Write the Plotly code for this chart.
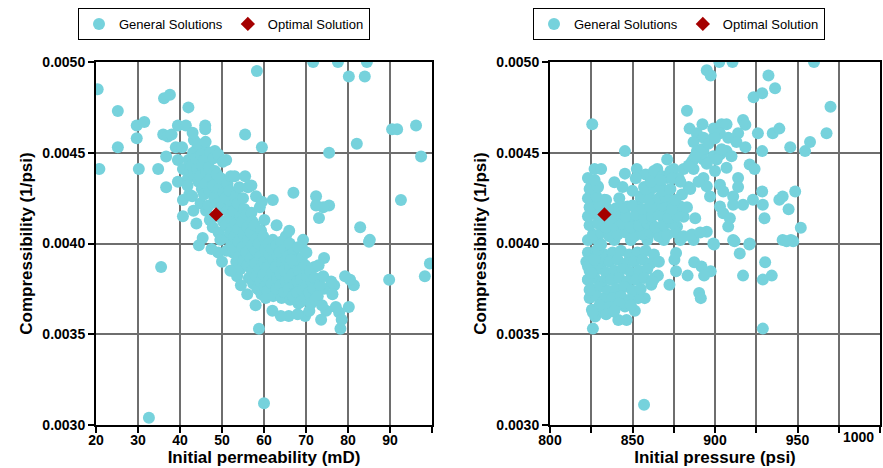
import plotly.graph_objects as go

# ---------------- Left panel: Initial permeability (mD) vs compressibility ----------------
perm_outer = [
    20.4, 25.2, 25.2, 20.8, 29.7, 31.5, 29.7, 30.2, 36.2, 37.6,
    42.0, 34.8, 36.7, 36.0, 37.1, 38.0, 39.5, 41.4, 46.0, 46.0,
    55.5, 58.3, 59.5, 36.7, 39.0, 43.3, 43.0, 40.5, 44.0, 45.7,
    48.3, 39.5, 39.5, 40.7, 40.7, 40.7, 41.9, 35.5, 32.6, 60.0,
    58.8, 71.7, 77.6, 84.5, 80.2, 84.0, 90.5, 91.7, 96.2, 82.1,
    75.5, 97.4, 67.0, 72.4, 72.4, 75.5, 74.1, 73.1, 92.6, 62.1,
    82.9, 85.2, 69.3, 65.2, 85.0, 74.3, 79.3, 81.4, 80.5, 89.8,
    98.3, 99.5, 76.7, 74.3, 80.2, 77.9, 74.8, 73.6, 78.2, 78.5,
    69.8, 70.8, 65.9, 53.6, 49.1, 52.6, 69.0, 72.0,
]
comp_outer_left = [
    0.00485, 0.00473, 0.00453, 0.00441, 0.00465, 0.00467, 0.00458, 0.00441, 0.00480, 0.00482,
    0.00475, 0.00441, 0.00431, 0.00460, 0.00459, 0.00460, 0.00465, 0.00465, 0.00465, 0.00463,
    0.00460, 0.00495, 0.00453, 0.00448, 0.00453, 0.00457, 0.00461, 0.00453, 0.00452, 0.00453,
    0.00451, 0.00446, 0.00434, 0.00441, 0.00424, 0.00415, 0.00436, 0.00387, 0.00304, 0.00312,
    0.00353, 0.00500, 0.00500, 0.00500, 0.00492, 0.00492, 0.00463, 0.00463, 0.00465, 0.00455,
    0.00450, 0.00448, 0.00428, 0.00426, 0.00421, 0.00421, 0.00420, 0.00414, 0.00424, 0.00424,
    0.00409, 0.00402, 0.00402, 0.00404, 0.00401, 0.00392, 0.00382, 0.00377, 0.00380, 0.00380,
    0.00382, 0.00389, 0.00377, 0.00375, 0.00365, 0.00362, 0.00363, 0.00358, 0.00353, 0.00358,
    0.00360, 0.00363, 0.00360, 0.00382, 0.00395, 0.00395, 0.00398, 0.00387,
]

perm_band = [
    42.0, 42.4, 41.8, 42.2,
    43.1, 42.8, 43.3, 42.9, 43.2,
    44.2, 43.8, 44.1, 44.4, 43.9,
    45.0, 45.3, 44.8, 45.2, 44.9, 45.4,
    46.1, 45.8, 46.3, 46.0, 45.7, 46.2,
    47.2, 46.9, 47.3, 47.0, 46.8, 47.1,
    48.0, 48.3, 47.9, 48.2, 47.8,
    49.1, 48.8, 49.3, 49.0, 48.9, 49.2,
    50.2, 49.7, 50.4, 49.9, 50.3, 49.6,
    51.0, 51.3, 50.8, 51.2, 50.9, 51.4, 51.1,
    52.1, 51.8, 52.3, 52.0, 51.9, 52.2,
    53.0, 53.3, 52.8, 53.2, 52.9, 53.1, 53.4,
    54.1, 53.8, 54.3, 54.0, 53.9, 54.2, 54.4,
    55.0, 55.3, 54.8, 55.2, 54.9, 55.1,
    56.2, 55.9, 56.1, 56.3, 55.8, 56.0, 56.4,
    57.0, 57.3, 56.9, 57.2, 56.8, 57.1, 57.4,
    58.1, 57.8, 58.3, 58.0, 57.9, 58.2, 58.4,
    59.0, 59.3, 58.8, 59.2, 58.9, 59.1, 59.4,
    60.1, 59.8, 60.3, 60.0, 59.9, 60.2, 60.4,
    61.0, 61.3, 60.8, 61.2, 60.9,
    62.1, 61.8, 62.3, 62.0, 61.9, 62.2,
    63.0, 63.3, 62.8, 63.2, 62.9,
    64.1, 63.8, 64.3, 64.0, 63.9, 64.2,
    65.0, 65.3, 64.8, 65.2, 64.9,
    66.1, 65.8, 66.3, 66.0, 65.9, 66.2,
    67.0, 67.3, 66.8, 67.2, 66.9,
    68.1, 67.8, 68.3, 68.0, 67.9, 68.2,
    69.0, 69.3, 68.8, 69.2, 68.9,
    70.1, 69.8, 70.3, 70.0, 69.9,
    71.0, 71.3, 70.8, 71.2,
    72.1, 71.8, 72.3,
    73.0, 73.3, 72.8,
    74.1, 73.8,
    76.0, 76.3,
    77.1,
    55.5, 57.0, 59.5, 63.0, 66.0, 47.5, 50.0, 56.0,
    58.0, 62.0, 64.0, 68.0, 44.5, 52.0, 54.5, 66.5,
]
comp_band_left = [
    0.00446, 0.00440, 0.00432, 0.00427,
    0.00450, 0.00443, 0.00438, 0.00426, 0.00418,
    0.00455, 0.00447, 0.00441, 0.00434, 0.00411,
    0.00449, 0.00443, 0.00437, 0.00430, 0.00422, 0.00403,
    0.00456, 0.00446, 0.00440, 0.00433, 0.00427, 0.00418,
    0.00450, 0.00442, 0.00436, 0.00429, 0.00421, 0.00413,
    0.00447, 0.00440, 0.00432, 0.00425, 0.00409,
    0.00449, 0.00438, 0.00430, 0.00422, 0.00415, 0.00406,
    0.00445, 0.00436, 0.00428, 0.00420, 0.00412, 0.00402,
    0.00446, 0.00433, 0.00425, 0.00418, 0.00410, 0.00403, 0.00396,
    0.00437, 0.00429, 0.00421, 0.00414, 0.00406, 0.00399,
    0.00437, 0.00426, 0.00418, 0.00411, 0.00404, 0.00397, 0.00390,
    0.00431, 0.00422, 0.00415, 0.00408, 0.00401, 0.00393, 0.00386,
    0.00425, 0.00419, 0.00412, 0.00405, 0.00398, 0.00391,
    0.00431, 0.00416, 0.00409, 0.00402, 0.00395, 0.00388, 0.00381,
    0.00417, 0.00412, 0.00406, 0.00399, 0.00392, 0.00385, 0.00378,
    0.00426, 0.00410, 0.00403, 0.00396, 0.00389, 0.00382, 0.00375,
    0.00420, 0.00407, 0.00400, 0.00393, 0.00386, 0.00379, 0.00372,
    0.00413, 0.00404, 0.00397, 0.00390, 0.00383, 0.00376, 0.00370,
    0.00400, 0.00394, 0.00387, 0.00380, 0.00374,
    0.00402, 0.00397, 0.00391, 0.00384, 0.00378, 0.00371,
    0.00399, 0.00393, 0.00387, 0.00381, 0.00375,
    0.00401, 0.00395, 0.00389, 0.00383, 0.00377, 0.00370,
    0.00397, 0.00391, 0.00385, 0.00379, 0.00373,
    0.00400, 0.00393, 0.00387, 0.00381, 0.00375, 0.00369,
    0.00395, 0.00389, 0.00383, 0.00377, 0.00371,
    0.00398, 0.00391, 0.00385, 0.00379, 0.00373, 0.00367,
    0.00392, 0.00386, 0.00380, 0.00374, 0.00368,
    0.00395, 0.00388, 0.00382, 0.00376, 0.00370,
    0.00385, 0.00379, 0.00373, 0.00367,
    0.00381, 0.00375, 0.00369,
    0.00388, 0.00377, 0.00371,
    0.00382, 0.00366,
    0.00379, 0.00372,
    0.00365,
    0.00437, 0.00432, 0.00423, 0.00410, 0.00407, 0.00397, 0.00390, 0.00372,
    0.00366, 0.00363, 0.00360, 0.00361, 0.00399, 0.00385, 0.00377, 0.00391,
]

# ---------------- Right panel: Initial pressure (psi) vs compressibility ----------------
pres_outer = [
    902.6, 910.6, 960.0, 895.0, 897.4, 932.4, 936.4, 923.4, 928.6, 970.0,
    883.0, 825.6, 884.6, 892.4, 899.0, 904.0, 907.0, 917.0, 918.4, 914.0,
    926.0, 935.0, 939.0, 967.6, 889.0, 893.0, 899.0, 903.0, 908.0, 887.0,
    913.0, 918.4, 928.6, 945.6, 954.6, 957.6, 845.4, 889.0, 893.0, 899.0,
    903.0, 907.0, 910.0, 887.0, 893.0, 901.0, 907.0, 871.0, 921.0, 924.0,
    827.0, 831.0, 845.4, 852.6, 865.0, 875.0, 881.0, 887.0, 823.0, 825.0,
    829.0, 825.0, 833.0, 839.0, 844.0, 857.0, 865.0, 871.0, 877.0, 884.0,
    893.0, 895.0, 903.0, 914.0, 914.0, 897.0, 905.0, 911.0, 917.0, 911.0,
    923.0, 928.6, 929.0, 939.0, 941.0, 944.6, 948.6, 930.0, 952.0, 903.0,
    905.0, 909.0, 908.0, 888.0, 847.0, 853.0, 859.0, 865.0, 871.0, 879.0,
    881.0, 840.0, 842.0, 848.0, 854.0,
    823.0, 829.0, 839.0, 849.0, 859.0, 869.0, 879.0, 887.0, 895.0, 899.0,
    911.0, 921.0, 941.0, 946.0,
    867.0, 869.0, 873.0, 871.0, 869.0, 875.0, 867.0, 863.0, 877.0, 859.0,
    855.0, 851.0, 845.0, 837.0, 835.0, 831.0, 835.0,
    857.0, 826.0, 929.0, 899.4, 911.8, 920.8, 943.4, 947.4, 915.0, 930.4,
    917.0, 929.0, 934.4, 887.4, 891.8, 897.4, 893.4, 883.4, 890.4, 891.4,
    876.4, 875.4, 876.4, 872.4, 865.4, 863.4, 861.4, 857.4, 851.4, 845.4,
    846.4, 841.4, 827.4, 825.4, 832.4, 838.4, 830.4, 835.4, 839.4, 853.4,
    855.0, 860.0, 865.0, 870.0, 875.0, 880.0, 885.0, 890.0, 858.0, 863.0,
    868.0, 873.0, 878.0, 883.0, 886.0, 892.0, 896.0, 900.0, 904.0, 884.0,
    888.0, 895.0, 900.0,
]
comp_outer_right = [
    0.00500, 0.00500, 0.00500, 0.004954, 0.004926, 0.004926, 0.004856, 0.004806, 0.004828, 0.004754,
    0.004731, 0.004657, 0.004633, 0.004657, 0.004633, 0.004657, 0.004657, 0.004681, 0.004654, 0.004607,
    0.004607, 0.004607, 0.004633, 0.004607, 0.004607, 0.004583, 0.004583, 0.004607, 0.004583, 0.004559,
    0.004559, 0.004531, 0.004509, 0.004531, 0.004509, 0.004559, 0.004509, 0.004509, 0.004509, 0.004481,
    0.004491, 0.004509, 0.004481, 0.004463, 0.004463, 0.004463, 0.004417, 0.004463, 0.004435, 0.004411,
    0.004411, 0.004411, 0.004385, 0.004411, 0.004411, 0.004411, 0.004411, 0.004411, 0.004361, 0.004315,
    0.004315, 0.004241, 0.004241, 0.004337, 0.004311, 0.004311, 0.004361, 0.004361, 0.004361, 0.004311,
    0.004361, 0.004315, 0.004324, 0.004361, 0.004311, 0.004259, 0.004287, 0.004259, 0.004213, 0.004213,
    0.004241, 0.004287, 0.004213, 0.004241, 0.004259, 0.004189, 0.004287, 0.004139, 0.004087, 0.004204,
    0.004167, 0.004139, 0.004093, 0.004139, 0.004204, 0.004204, 0.004167, 0.004194, 0.004222, 0.004204,
    0.004148, 0.004194, 0.004148, 0.004130, 0.004148,
    0.004019, 0.004019, 0.004019, 0.004019, 0.004019, 0.004019, 0.004019, 0.004019, 0.004065, 0.004000,
    0.004019, 0.004000, 0.004019, 0.004019,
    0.004315, 0.004259, 0.004241, 0.004167, 0.004130, 0.004130, 0.004074, 0.004093, 0.004093, 0.004074,
    0.004056, 0.004093, 0.004074, 0.004093, 0.004148, 0.004130, 0.004074,
    0.003111, 0.003531, 0.003531, 0.003994, 0.004013, 0.003994, 0.004013, 0.004013, 0.003945, 0.003897,
    0.003823, 0.003801, 0.003823, 0.003897, 0.003873, 0.003847, 0.003823, 0.003823, 0.003727, 0.003699,
    0.003847, 0.003911, 0.003948, 0.003773, 0.003823, 0.003810, 0.003773, 0.003699, 0.003629, 0.003653,
    0.003579, 0.003579, 0.003598, 0.003635, 0.003625, 0.003625, 0.003699, 0.003680, 0.003699, 0.003699,
    0.004250, 0.004280, 0.004220, 0.004260, 0.004230, 0.004270, 0.004300, 0.004340, 0.004380, 0.004400,
    0.004370, 0.004400, 0.004360, 0.004200, 0.004450, 0.004520, 0.004550, 0.004580, 0.004520, 0.004430,
    0.004480, 0.004440, 0.004400,
]

pres_dense = [
    823, 828, 833, 838, 843, 848, 853, 858, 863,
    822, 826, 831, 836, 841, 846, 851, 856, 861, 866,
    824, 829, 834, 839, 844, 849, 854, 859,
    823, 827, 832, 837, 842, 847, 852, 857, 862,
    825, 830, 835, 840, 845, 850, 855,
    824, 828, 833, 838, 843, 848,
    830, 836, 842, 849,
    826, 834, 839,
    826, 831, 836, 841, 846, 851, 856, 861, 866, 871, 876, 881, 886, 891,
    824, 829, 834, 839, 844, 849, 854, 859, 864, 869, 874,
    823, 828, 837, 846, 852, 857, 862, 866, 872, 877,
    824, 830, 835, 845, 850, 856, 861, 868, 874,
    823, 828, 834, 842, 855, 860, 866, 870, 876,
    824, 829, 850, 858, 863, 868, 873,
    827, 852, 861, 867, 874, 879,
    823, 823, 824, 825, 827, 829, 831,
]
comp_dense = [
    0.00395, 0.00396, 0.00394, 0.00395, 0.00396, 0.00394, 0.00395, 0.00396, 0.00394,
    0.00390, 0.00391, 0.00389, 0.00390, 0.00391, 0.00389, 0.00390, 0.00391, 0.00389, 0.00390,
    0.00385, 0.00386, 0.00384, 0.00385, 0.00386, 0.00384, 0.00385, 0.00386,
    0.00380, 0.00381, 0.00379, 0.00380, 0.00381, 0.00379, 0.00380, 0.00381, 0.00379,
    0.00375, 0.00376, 0.00374, 0.00375, 0.00376, 0.00374, 0.00375,
    0.00370, 0.00371, 0.00369, 0.00370, 0.00371, 0.00369,
    0.00366, 0.00365, 0.00367, 0.00366,
    0.00362, 0.00361, 0.00363,
    0.00405, 0.00406, 0.00404, 0.00405, 0.00406, 0.00404, 0.00405, 0.00406, 0.00404, 0.00405, 0.00406, 0.00404, 0.00405, 0.00406,
    0.00410, 0.00411, 0.00409, 0.00410, 0.00411, 0.00409, 0.00410, 0.00411, 0.00409, 0.00410, 0.00411,
    0.00415, 0.00416, 0.00414, 0.00415, 0.00416, 0.00414, 0.00415, 0.00416, 0.00414, 0.00415,
    0.00420, 0.00421, 0.00419, 0.00420, 0.00421, 0.00419, 0.00420, 0.00421, 0.00419,
    0.00425, 0.00426, 0.00424, 0.00425, 0.00426, 0.00424, 0.00425, 0.00426, 0.00424,
    0.00430, 0.00431, 0.00429, 0.00430, 0.00431, 0.00429, 0.00430,
    0.00435, 0.00436, 0.00434, 0.00435, 0.00436, 0.00434,
    0.003875, 0.003801, 0.003745, 0.003838, 0.003911, 0.003967, 0.003994,
]

# Optimal solution
opt_perm = [48.6]
opt_pres = [833.0]
opt_comp = [0.00416]

# Axis tick definitions
comp_ticks = [0.0030, 0.0035, 0.0040, 0.0045, 0.0050]
perm_ticks = [20, 30, 40, 50, 60, 70, 80, 90, 100]
perm_labels = ["20", "30", "40", "50", "60", "70", "80", "90", ""]
pres_ticks = [800, 825, 850, 875, 900, 925, 950, 975, 1000]
pres_labels = ["800", "", "850", "", "900", "", "950", "", ""]

CYAN = "#76D2DC"
RED = "#A50000"
FONT = "Arial, Liberation Sans, sans-serif"
MSIZE = 12

fig = go.Figure()

fig.add_trace(go.Scatter(x=perm_outer + perm_band, y=comp_outer_left + comp_band_left,
                         mode="markers", name="General Solutions",
                         marker=dict(color=CYAN, size=MSIZE, line=dict(width=0)),
                         xaxis="x", yaxis="y", legend="legend"))
fig.add_trace(go.Scatter(x=opt_perm, y=opt_comp, mode="markers", name="Optimal Solution",
                         marker=dict(color=RED, symbol="diamond", size=11, line=dict(width=0)),
                         xaxis="x", yaxis="y", legend="legend"))
fig.add_trace(go.Scatter(x=pres_outer + pres_dense, y=comp_outer_right + comp_dense,
                         mode="markers", name="General Solutions",
                         marker=dict(color=CYAN, size=MSIZE, line=dict(width=0)),
                         xaxis="x2", yaxis="y2", legend="legend2"))
fig.add_trace(go.Scatter(x=opt_pres, y=opt_comp, mode="markers", name="Optimal Solution",
                         marker=dict(color=RED, symbol="diamond", size=11, line=dict(width=0)),
                         xaxis="x2", yaxis="y2", legend="legend2"))

GRID = "#6e6e6e"
TICKFONT = dict(family=FONT, size=14, color="black", weight="bold")
TITLEFONT = dict(family=FONT, size=17, color="black", weight="bold")
axis_common = dict(showline=True, linecolor="black", linewidth=2, mirror=True,
                   ticks="outside", ticklen=6, tickwidth=2, tickcolor="black",
                   showgrid=True, gridcolor=GRID, gridwidth=1.5, zeroline=False,
                   tickfont=TICKFONT, automargin=False)

ydom = [0.0919, 0.8675]
legend_common = dict(y=1 - 8 / 468, xanchor="left", yanchor="top", orientation="h",
                     bordercolor="black", borderwidth=1, bgcolor="white",
                     itemwidth=30, font=dict(family=FONT, size=13, color="black"))
fig.update_layout(
    width=883, height=468,
    margin=dict(l=0, r=0, t=0, b=0),
    paper_bgcolor="white", plot_bgcolor="white",
    font=dict(family=FONT, color="black"),
    xaxis=dict(domain=[96 / 883, 432 / 883], range=[20, 100], tickmode="array",
               tickvals=perm_ticks, ticktext=perm_labels, anchor="y",
               ticklabelstandoff=-5,
               title=dict(text="Initial permeability (mD)", standoff=4, font=TITLEFONT),
               **axis_common),
    yaxis=dict(domain=ydom, range=[0.0030, 0.0050], tickmode="array",
               tickvals=comp_ticks, tickformat=".4f", anchor="x",
               title=dict(text="Compressibility (1/psi)", standoff=5, font=TITLEFONT),
               **axis_common),
    xaxis2=dict(domain=[550 / 883, 880 / 883], range=[800, 1000], tickmode="array",
                tickvals=pres_ticks, ticktext=pres_labels, anchor="y2",
                ticklabelstandoff=-5,
                title=dict(text="Initial pressure (psi)", standoff=4, font=TITLEFONT),
                **axis_common),
    yaxis2=dict(domain=ydom, range=[0.0030, 0.0050], tickmode="array",
                tickvals=comp_ticks, tickformat=".4f", anchor="x2",
                title=dict(text="Compressibility (1/psi)", standoff=5, font=TITLEFONT),
                **axis_common),
    legend=dict(x=78 / 883, **legend_common),
    legend2=dict(x=533 / 883, **legend_common),
    annotations=[dict(text="1000", xref="paper", yref="paper", x=858 / 883, y=1 - 437 / 468,
                      xanchor="center", yanchor="middle", showarrow=False,
                      font=TICKFONT)],
)

fig.write_html("out.html")
